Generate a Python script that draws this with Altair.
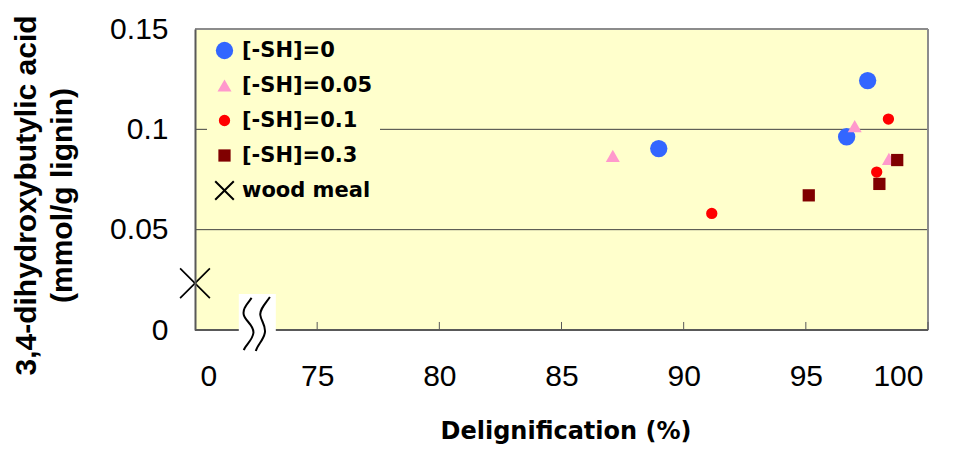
import altair as alt
import pandas as pd

# ---------------- data ----------------
series = ["[-SH]=0", "[-SH]=0.05", "[-SH]=0.1", "[-SH]=0.3", "wood meal"]

sh0_x = [88.98, 96.67, 97.53]
sh0_y = [0.0904, 0.0963, 0.1243]
sh005_x = [87.10, 97.00, 98.40]
sh005_y = [0.0868, 0.1016, 0.0853]
sh01_x = [91.15, 98.38, 97.90]
sh01_y = [0.0581, 0.1051, 0.0787]
sh03_x = [95.12, 98.01, 98.74]
sh03_y = [0.0671, 0.0728, 0.0847]
wood_x = [0]
wood_y = [0.0233]

x_tick_values = [70, 75, 80, 85, 90, 95, 100]   # 70 stands in for the broken "0"
x_inner_ticks = [75, 80, 85, 90, 95, 100]
y_tick_values = [0, 0.05, 0.1, 0.15]
y_grid_values = [0.05, 0.1]
axis_break_x = [72.55]

colors = ["#3366FF", "#FF99CC", "#FF0000", "#800000", "#000000"]
sizes = [300, 196, 128, 150, 400]
bg = "#FFFFCC"


def x_path(a):
    v = [(-1, -1 + a), (-1 + a, -1), (0, -a), (1 - a, -1), (1, -1 + a), (a, 0),
         (1, 1 - a), (1 - a, 1), (0, a), (-1 + a, 1), (-1, 1 - a), (-a, 0)]
    return "M" + "L".join(f"{x:.3f},{y:.3f}" for x, y in v) + "Z"


shapes = ["circle", "triangle-up", "circle", "square", x_path(0.141)]

rows = []
for name, xs, ys in zip(series,
                        [sh0_x, sh005_x, sh01_x, sh03_x, wood_x],
                        [sh0_y, sh005_y, sh01_y, sh03_y, wood_y]):
    for xv, yv in zip(xs, ys):
        rows.append({"series": name, "x": xv, "y": yv})
df = pd.DataFrame(rows)

ticks_df = pd.DataFrame({"t": x_inner_ticks})
grid_df = pd.DataFrame({"g": y_grid_values})
break_df = pd.DataFrame({"bx": axis_break_x, "by": [0]})

# ---------------- scales / axes ----------------
xscale = alt.Scale(domain=[70, 100], nice=False, zero=False)
yscale = alt.Scale(domain=[0, 0.15], nice=False)

x_axis = alt.Axis(
    values=x_tick_values,
    labelExpr="datum.value == 70 ? '0' : datum.label",
    labelFont="Liberation Sans", labelFontSize=30, labelColor="black",
    labelPadding=31,
    labelOffset={"condition": [{"test": "datum.value == 70", "value": 5},
                               {"test": "datum.value == 100", "value": -5}],
                 "value": 0},
    ticks=False, grid=False, domain=False,
    title="Delignification (%)",
    titleFont="DejaVu Sans", titleFontSize=24, titleFontWeight="bold",
    titleColor="black",
    titleX=370.5, titleY=108, titleAlign="center", titleBaseline="alphabetic",
)

y_axis = alt.Axis(
    values=y_tick_values, format="~g",
    labelFont="Liberation Sans", labelFontSize=30, labelColor="black",
    labelPadding=27,
    ticks=False, grid=False, zindex=1,
    domainColor="#595959", domainWidth=2,
    title=["3,4-dihydroxybutylic acid", "(mmol/g lignin)"],
    titleFont="Liberation Sans", titleFontSize=30, titleFontWeight="bold",
    titleColor="black", titleAngle=270, titleAlign="center",
    titleBaseline="alphabetic", titleLineHeight=36,
    titleX=-160, titleY=166,
)

legend = alt.Legend(
    title=None, orient="none", legendX=12, legendY=4,
    padding=7, fillColor=bg,
    labelFont="DejaVu Sans", labelFontSize=21, labelFontWeight="bold",
    labelColor="black", labelOffset=7, rowPadding=13,
    symbolStrokeWidth=0, symbolOpacity=1,
)

background = alt.Chart(break_df).mark_rect(color=bg, opacity=1).encode(
    x=alt.datum(70, scale=xscale), x2=alt.datum(100),
    y=alt.datum(0, scale=yscale), y2=alt.datum(0.15),
)

grid = alt.Chart(grid_df).mark_rule(color="#404040", strokeWidth=1).encode(
    y=alt.Y("g:Q", scale=yscale),
    x=alt.datum(70, scale=xscale), x2=alt.datum(100),
)

# plot frame: gray top and right edges, darker bottom axis line
frame_top = alt.Chart(break_df).mark_rule(color="#8c8c8c", strokeWidth=2).encode(
    y=alt.datum(0.15, scale=yscale),
    x=alt.datum(70, scale=xscale), x2=alt.datum(100),
)
frame_right = alt.Chart(break_df).mark_rule(color="#8c8c8c", strokeWidth=2).encode(
    x=alt.datum(100, scale=xscale),
    y=alt.datum(0, scale=yscale), y2=alt.datum(0.15),
)
x_domain = alt.Chart(break_df).mark_rule(color="#595959", strokeWidth=2).encode(
    y=alt.datum(0, scale=yscale),
    x=alt.datum(70, scale=xscale), x2=alt.datum(100),
)

base = alt.Chart(df).transform_calculate(
    xp="datum.x < 50 ? 70 : datum.x"
)

points = base.transform_filter("datum.series != 'wood meal'").mark_point(
    filled=True, opacity=1, strokeWidth=0
).encode(
    x=alt.X("xp:Q", scale=xscale, axis=x_axis),
    y=alt.Y("y:Q", scale=yscale, axis=y_axis),
    color=alt.Color("series:N", scale=alt.Scale(domain=series, range=colors), legend=legend),
    shape=alt.Shape("series:N", scale=alt.Scale(domain=series, range=shapes), legend=legend),
    size=alt.Size("series:N", scale=alt.Scale(type="ordinal", domain=series, range=sizes),
                  legend=legend),
)

wood = base.transform_filter("datum.series == 'wood meal'").mark_point(
    filled=True, opacity=1, strokeWidth=0, shape=x_path(0.078), size=961, color="black"
).encode(x=alt.X("xp:Q", scale=xscale), y=alt.Y("y:Q", scale=yscale))

inner_ticks = alt.Chart(ticks_df).mark_rule(color="#595959", strokeWidth=1).encode(
    x=alt.X("t:Q", scale=xscale),
    y=alt.datum(0, scale=yscale),
    y2=alt.datum(0.004),
)

break_bg = alt.Chart(break_df).mark_point(
    filled=True, opacity=1, strokeWidth=0, color="white", size=3600,
    shape="M-0.617,-1.2L0.617,-1.2L0.617,0.733L-0.617,0.733Z",
).encode(x=alt.X("bx:Q", scale=xscale), y=alt.Y("by:Q", scale=yscale))

break_lines = alt.Chart(break_df).mark_point(
    filled=False, opacity=1, strokeWidth=2, color="black", size=3600,
    shape=("M-0.19,-1.07C-0.35,-0.85,-0.5,-0.7,-0.45,-0.5C-0.4,-0.3,-0.1,-0.15,-0.13,0.1"
           "C-0.16,0.35,-0.4,0.5,-0.45,0.67"
           "M0.42,-1.1C0.25,-0.85,0.08,-0.7,0.1,-0.5C0.12,-0.3,0.3,-0.15,0.25,0.1"
           "C0.2,0.35,0.0,0.5,-0.05,0.7"),
).encode(x=alt.X("bx:Q", scale=xscale), y=alt.Y("by:Q", scale=yscale))

chart = alt.layer(
    background, grid, frame_top, frame_right, x_domain,
    points, wood, inner_ticks, break_bg, break_lines
).properties(
    width=733, height=301,
    autosize=alt.AutoSizeParams(type="none"),
    padding={"left": 187, "top": 21, "right": 20, "bottom": 116},
).configure_view(
    strokeWidth=0
).configure(background="white")

chart.save("out.html", embed_options={"renderer": "svg", "actions": False})
